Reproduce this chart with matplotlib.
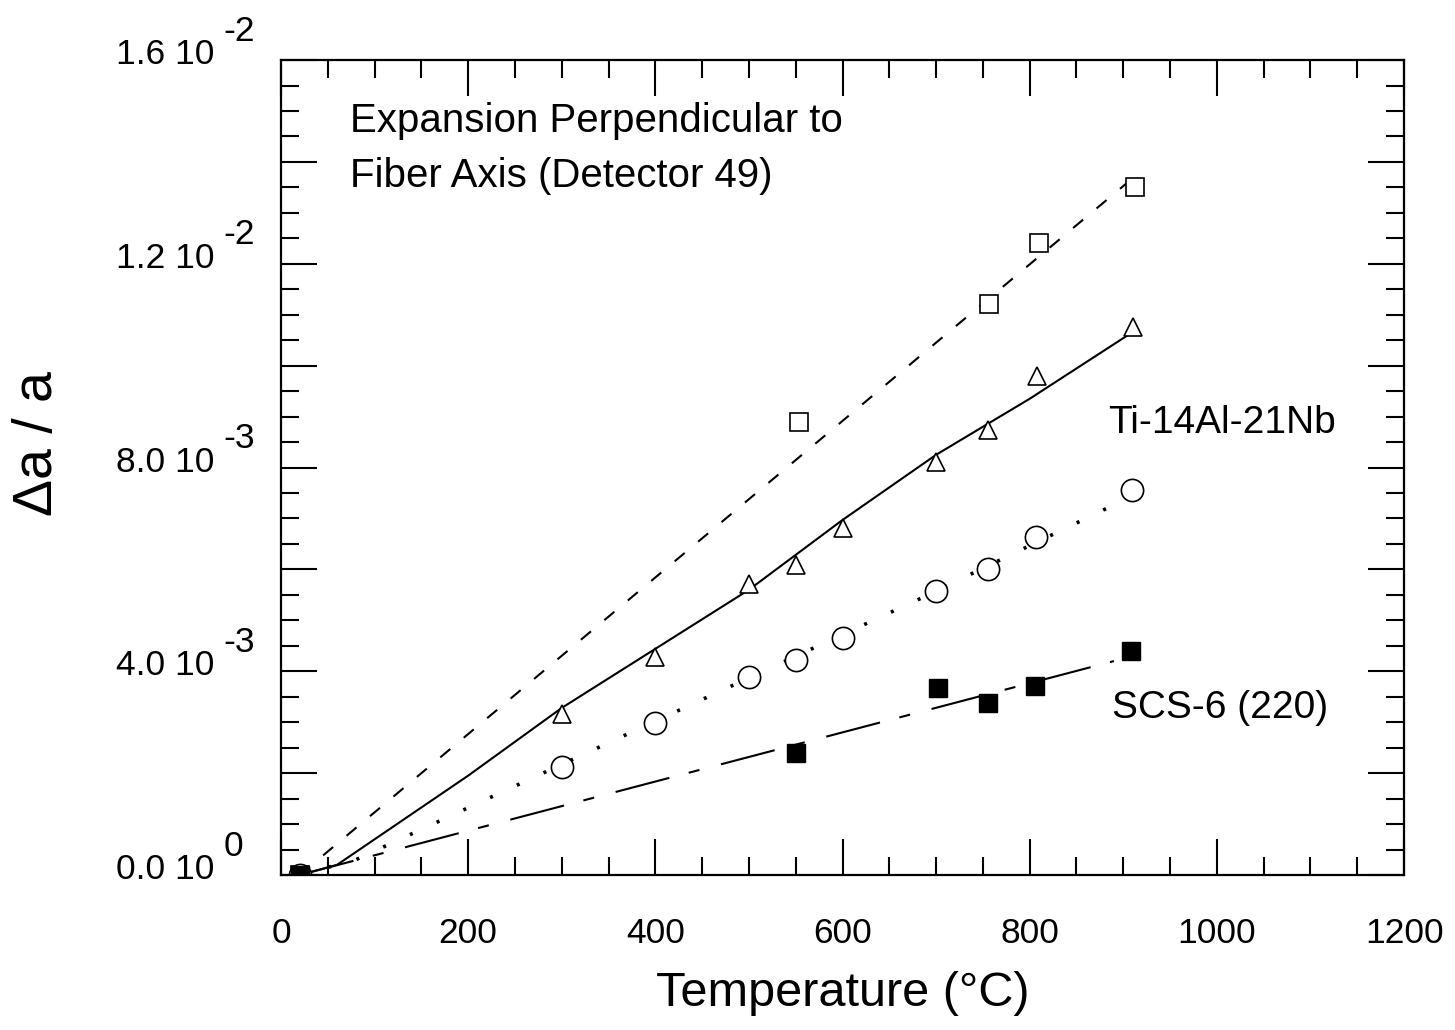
import matplotlib
matplotlib.use("Agg")
import matplotlib.pyplot as plt
from matplotlib.ticker import MultipleLocator, NullFormatter

plt.rcParams["font.family"] = ["Liberation Sans", "DejaVu Sans"]
plt.rcParams["lines.scale_dashes"] = False

# measured points: temperature (C) and lattice strain
sq_t = [20, 553, 756, 810, 912]
sq_v = [0.0, 0.00889, 0.01121, 0.01241, 0.01351]
tri_t = [20, 300, 400, 500, 550, 600, 700, 755, 808, 910]
tri_v = [0.0, 0.00317, 0.00427, 0.00571, 0.00609, 0.00681, 0.0081, 0.00874, 0.0098, 0.01076]
circ_t = [20, 300, 400, 500, 550, 600, 700, 755, 807, 909]
circ_v = [0.0, 0.00212, 0.00298, 0.00389, 0.00422, 0.00465, 0.00557, 0.006, 0.00664, 0.00756]
fill_t = [20, 550, 702, 755, 806, 908]
fill_v = [0.0, 0.0024, 0.00367, 0.00338, 0.00371, 0.0044]

# fitted curves
sq_fit_t = [20, 910]
sq_fit_v = [0.0, 0.01368]
tri_fit_t = [20, 60, 200, 300, 500, 600, 700, 800, 905]
tri_fit_v = [0.0, 0.0002, 0.00195, 0.00328, 0.0056, 0.00697, 0.00825, 0.00935, 0.0106]
circ_fit_t = [20, 80, 280, 680, 905]
circ_fit_v = [0.0, 0.0003, 0.002, 0.0054, 0.0074]
fill_fit_t = [20, 890]
fill_fit_v = [0.0, 0.0042]

# y tick labels written as "mantissa 10^exp"
ytick_vals = [0.0, 0.004, 0.008, 0.012, 0.016]
ytick_mant = ["0.0", "4.0", "8.0", "1.2", "1.6"]
ytick_exp = ["0", "-3", "-3", "-2", "-2"]
xtick_vals = [0, 200, 400, 600, 800, 1000, 1200]

fig = plt.figure(figsize=(14.55, 10.30), dpi=100)
ax = fig.add_axes([0.1931, 0.1505, 0.7719, 0.7912])

lw = 1.5
ax.plot(sq_fit_t, sq_fit_v, color="black", lw=lw, linestyle=(0, (9.4, 12.6)))
ax.plot(tri_fit_t, tri_fit_v, color="black", lw=lw, linestyle="-")
ax.plot(circ_fit_t, circ_fit_v, color="black", lw=2.6, linestyle=(0, (2.2, 19.0)))
ax.plot(fill_fit_t, fill_fit_v, color="black", lw=lw, linestyle=(0, (40, 14.4, 8, 16)))

mk = dict(linestyle="none", color="black", mfc="white", mew=1.2)
ax.plot(sq_t, sq_v, marker="s", ms=12.5, **mk)
ax.plot(tri_t, tri_v, marker="^", ms=13.5, **mk)
ax.plot(circ_t, circ_v, marker="o", ms=16, **mk)
ax.plot(fill_t, fill_v, marker="s", ms=12.5, linestyle="none", color="black")

ax.set_xlim(0, 1200)
ax.set_ylim(0, 0.016)

ax.xaxis.set_major_locator(MultipleLocator(200))
ax.xaxis.set_minor_locator(MultipleLocator(50))
ax.yaxis.set_major_locator(MultipleLocator(0.002))
ax.yaxis.set_minor_locator(MultipleLocator(0.0005))
ax.yaxis.set_major_formatter(NullFormatter())
ax.set_xticks(xtick_vals)
ax.set_xticklabels([str(v) for v in xtick_vals])

ax.tick_params(which="both", direction="in", top=True, right=True, width=1.5)
ax.tick_params(which="major", length=26)
ax.tick_params(which="minor", length=13)
ax.tick_params(axis="x", which="major", labelsize=25.5, pad=30)
for s in ax.spines.values():
    s.set_linewidth(1.6)

for v, m, e in zip(ytick_vals, ytick_mant, ytick_exp):
    ax.annotate(m + " 10", xy=(0, v), xycoords=("axes fraction", "data"),
                xytext=(-48, -3), textcoords="offset points",
                ha="right", va="baseline", fontsize=25.5, annotation_clip=False)
    ax.annotate(e, xy=(0, v), xycoords=("axes fraction", "data"),
                xytext=(-41.5, 14), textcoords="offset points",
                ha="left", va="baseline", fontsize=25.5, annotation_clip=False)

ax.set_xlabel("Temperature (°C)", fontsize=35)
ax.xaxis.set_label_coords(0.5, -0.118)
ax.text(-0.2164, 0.53, "Δa / a", transform=ax.transAxes, rotation=90,
        ha="center", va="center", fontsize=40)

ax.text(74, 0.01459, "Expansion Perpendicular to", fontsize=29, va="baseline")
ax.text(74, 0.01351, "Fiber Axis (Detector 49)", fontsize=29, va="baseline")
ax.text(884, 0.00868, "Ti-14Al-21Nb", fontsize=28, va="baseline")
ax.text(888, 0.00308, "SCS-6 (220)", fontsize=28, va="baseline")

fig.savefig("out.png", dpi=100)
